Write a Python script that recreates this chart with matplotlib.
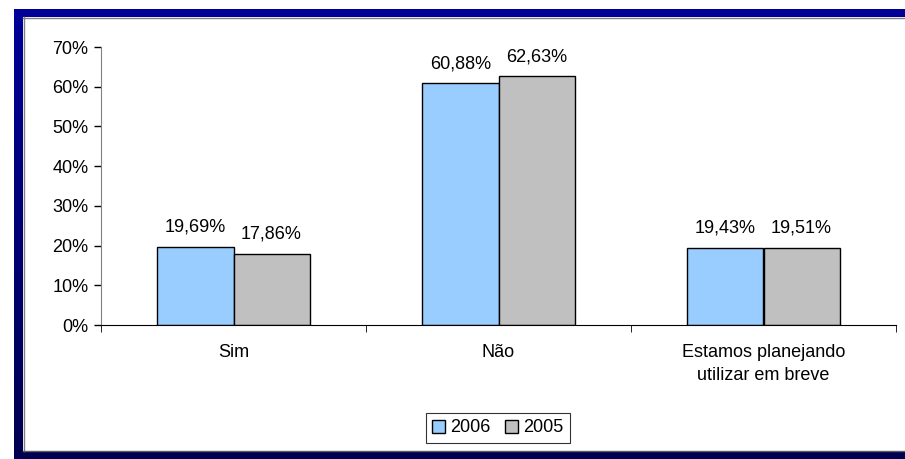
import numpy as np
import matplotlib.pyplot as plt
from matplotlib.colors import LinearSegmentedColormap

plt.rcParams["font.family"] = ["Liberation Sans", "DejaVu Sans"]

categories = ["Sim", "Não", "Estamos planejando\nutilizar em breve"]
years = ["2006", "2005"]
values_2006 = [19.69, 60.88, 19.43]
values_2005 = [17.86, 62.63, 19.51]
yticks = [0, 10, 20, 30, 40, 50, 60, 70]

W, H = 905, 459
FS = 13
fig = plt.figure(figsize=(W / 100, H / 100), dpi=100)

# frame around the chart, drawn in pixel coordinates on a background axes
bg = fig.add_axes([0, 0, 1, 1], zorder=0)
bg.set_xlim(0, W)
bg.set_ylim(H, 0)
bg.axis("off")
frame_cmap = LinearSegmentedColormap.from_list("frame", ["#000099", "#000050"])
grad = np.linspace(0, 1, 256).reshape(-1, 1)
bg.imshow(grad, cmap=frame_cmap, extent=(14, 23, 458, 9), aspect="auto")
bg.add_patch(plt.Rectangle((14, 9), W - 14, 8, color="#000099", lw=0))
bg.add_patch(plt.Rectangle((14, 451), W - 14, 8, color="#000050", lw=0))
bg.plot([23, W], [17.5, 17.5], color="#808080", lw=1)
bg.plot([23.5, 23.5], [17, 451], color="#808080", lw=1)
bg.plot([23, W], [450.5, 450.5], color="#606060", lw=1)

ax = fig.add_axes([101 / W, 1 - 325 / H, (896 - 101) / W, (325 - 47) / H], zorder=1)
ax.patch.set_alpha(0)

x = np.arange(len(categories))
bw = 0.287
colors = ["#99ccff", "#c0c0c0"]
for i, (vals, c) in enumerate(zip([values_2006, values_2005], colors)):
    pos = x + (i - 0.5) * bw
    ax.bar(pos, vals, bw, color=c, edgecolor="black", lw=1, label=years[i])
    for p, v in zip(pos, vals):
        ax.annotate(f"{v:.2f}%".replace(".", ","), (p, v), xytext=(0, 8),
                    textcoords="offset points", ha="center", va="bottom",
                    fontsize=FS)

ax.set_xlim(-0.5, len(categories) - 0.5)
ax.set_ylim(0, 70)
ax.set_yticks(yticks)
ax.set_yticklabels([f"{t}%" for t in yticks], fontsize=FS)
ax.set_xticks(x)
ax.set_xticklabels(categories, fontsize=FS, linespacing=1.4)
ax.tick_params(axis="x", length=0, pad=14)
ax.tick_params(axis="y", direction="out", length=5, width=1, pad=4)
ax.set_xticks(np.arange(len(categories) + 1) - 0.5, minor=True)
ax.tick_params(axis="x", which="minor", direction="out", length=5)
for s in ["top", "right"]:
    ax.spines[s].set_visible(False)
ax.spines["left"].set_color("#808080")
ax.spines["bottom"].set_color("black")

leg = fig.legend(loc="center", bbox_to_anchor=(498 / W, 1 - 428 / H), ncol=2,
                 fontsize=FS, frameon=True, fancybox=False, edgecolor="black",
                 handlelength=0.7, handleheight=0.7, handletextpad=0.3,
                 columnspacing=0.8, borderpad=0.35, borderaxespad=0)
leg.get_frame().set_linewidth(0.8)

fig.savefig("out.png", dpi=100)
